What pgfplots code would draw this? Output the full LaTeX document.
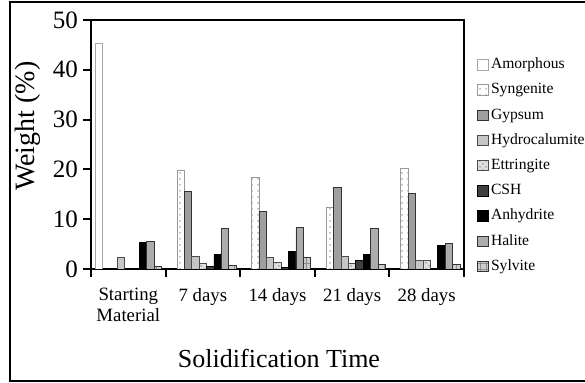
\documentclass[border=0pt]{standalone}
\usepackage{fontspec}
\setmainfont{Liberation Serif}
\usepackage{pgfplots}
\pgfplotsset{compat=1.18}
\usetikzlibrary{patterns}
\begin{document}
\begin{tikzpicture}
\path[use as bounding box] (0pt,0pt) rectangle (292.5pt,-191.5pt);
\draw[line width=1pt] (5pt,-1pt) rectangle (294pt,-190.5pt);
\begin{axis}[
  at={(45.5pt,-134.5pt)}, anchor=south west,
  scale only axis, width=186.5pt, height=124.5pt,
  ybar=0pt, bar width=3.7pt,
  xmin=-0.5, xmax=4.5, ymin=0, ymax=50,
  xtick={-0.5,0.5,1.5,2.5,3.5,4.5},
  xticklabels={},
  extra x ticks={0,1,2,3,4},
  extra x tick labels={{Starting\\Material},{7 days},{14 days},{21 days},{28 days}},
  extra x tick style={major tick length=0pt, xticklabel style={align=center, font=\fontsize{9.4}{10.5}\selectfont, yshift=-6pt}},
  ytick={0,10,20,30,40,50},
  major tick length=4pt,
  tick pos=left, tick align=outside,
  tick style={line width=1pt, black},
  yticklabel style={font=\fontsize{12.5}{13}\selectfont, xshift=1pt},
  /pgf/number format/assume math mode=true,
  axis line style={line width=1pt, black},
  ylabel={Weight (\%)},
  ylabel style={at={(axis description cs:-0.169,0.574)}, anchor=center, font=\fontsize{14}{16}\selectfont},
  xlabel={Solidification Time},
  xlabel style={at={(axis description cs:0.504,-0.394)}, anchor=base, font=\fontsize{13}{15}\selectfont},
  legend style={at={(axis description cs:1.035,0.858)}, anchor=north west, draw=none, fill=none,
    inner sep=0pt, font=\fontsize{7.8}{8}\selectfont,
    nodes={inner sep=1pt, text height=5.5pt, text depth=1.5pt},
    row sep=3.6pt, cells={anchor=west}},
  legend image code/.code={\draw[#1] (0pt,-2.6pt) rectangle (5.4pt,2.6pt);},
  every axis plot/.append style={line width=0.4pt},
]
\addplot[draw=gray!70, fill=white] coordinates {(0,45.3)};
\addplot[draw=gray!80, fill=white, postaction={pattern=dots, pattern color=gray!60}] coordinates {(1,19.7) (2,18.3) (3,12.4) (4,20.2)};
\addplot[draw=black!80, fill=gray!75] coordinates {(1,15.5) (2,11.5) (3,16.3) (4,15.1)};
\addplot[draw=black!70, fill=gray!45] coordinates {(0,2.4) (1,2.6) (2,2.3) (3,2.6) (4,1.8)};
\addplot[draw=black!70, fill=gray!25, postaction={pattern=crosshatch dots, pattern color=gray!70}] coordinates {(1,1.1) (2,1.3) (3,1.2) (4,1.8)};
\addplot[draw=black, fill=black!75] coordinates {(1,0.5) (2,0.4) (3,1.7)};
\addplot[draw=black, fill=black] coordinates {(0,5.4) (1,3.0) (2,3.6) (3,2.9) (4,4.7)};
\addplot[draw=black!80, fill=gray!65] coordinates {(0,5.6) (1,8.1) (2,8.4) (3,8.1) (4,5.2)};
\addplot[draw=black!80, fill=gray!40, postaction={pattern=grid, pattern color=gray!90}] coordinates {(0,0.6) (1,0.8) (2,2.3) (3,1.0) (4,1.0)};
\legend{Amorphous,Syngenite,Gypsum,Hydrocalumite,Ettringite,CSH,Anhydrite,Halite,Sylvite}
\end{axis}
\fill[black] (45pt,-9.4pt) rectangle (232.6pt,-10.6pt);
\fill[black] (231.4pt,-9.4pt) rectangle (232.6pt,-135pt);
\foreach \x in {45.5,82.8,120.1,157.4,194.7,232} {\fill[black] (\x pt-0.5pt,-134.5pt) rectangle (\x pt+0.5pt,-138pt);}
\end{tikzpicture}
\end{document}
